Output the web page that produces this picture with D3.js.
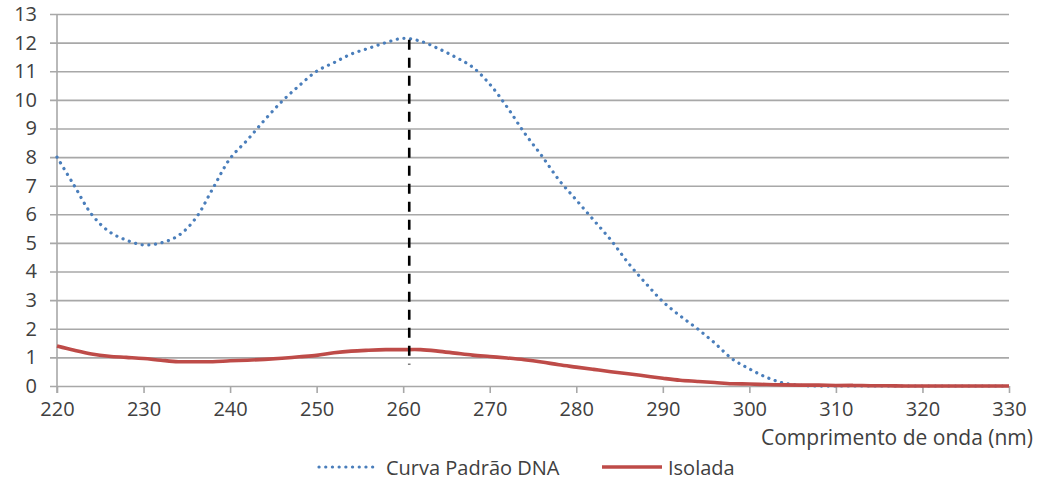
<!DOCTYPE html>
<html>
<head>
<meta charset="utf-8">
<script src="https://cdn.jsdelivr.net/npm/d3@7"></script>
<style>
  html, body { margin: 0; padding: 0; background: #fff; }
  text { font-family: "Open Sans", sans-serif; fill: #404040; }
</style>
</head>
<body>
<div class="chart"></div>
<script>
// wavelengths (nm)
var wavelengths = [220, 222, 224, 226, 228, 230, 232, 234, 236, 238, 240, 242, 244, 246, 248,
  250, 252, 254, 256, 258, 260, 262, 264, 266, 268, 270, 272, 274, 276, 278, 280, 282, 284,
  286, 288, 290, 292, 294, 296, 298, 300, 302, 304, 306, 308, 310, 312, 314, 316, 318, 320,
  322, 324, 326, 328, 330];

var curvaPadrao = [8.0, 7.0, 6.0, 5.4, 5.1, 4.93, 5.0, 5.25, 5.85, 6.9, 7.95, 8.6, 9.3, 9.95, 10.5,
  11.0, 11.3, 11.6, 11.8, 12.0, 12.15, 12.05, 11.8, 11.5, 11.15, 10.55, 9.75, 8.85, 8.05, 7.2, 6.5, 5.8, 5.1,
  4.3, 3.6, 2.95, 2.45, 2.0, 1.5, 0.95, 0.6, 0.3, 0.1, 0.02, 0, 0, 0, 0, 0, 0, 0,
  0, 0, 0, 0, 0];

var isolada = [1.4, 1.25, 1.12, 1.04, 1.0, 0.96, 0.9, 0.85, 0.85, 0.85, 0.88, 0.9, 0.93, 0.97, 1.02,
  1.07, 1.16, 1.22, 1.25, 1.27, 1.27, 1.27, 1.22, 1.15, 1.08, 1.03, 0.98, 0.92, 0.84, 0.74, 0.66, 0.58, 0.5,
  0.43, 0.35, 0.27, 0.2, 0.16, 0.12, 0.08, 0.07, 0.05, 0.04, 0.03, 0.03, 0.02, 0.02, 0.01, 0.01, 0, 0,
  0, 0, 0, 0, 0];

var xTicks = [220, 230, 240, 250, 260, 270, 280, 290, 300, 310, 320, 330];
var yTicks = [0, 1, 2, 3, 4, 5, 6, 7, 8, 9, 10, 11, 12, 13];

// peak marker (dashed)
var peakX = 260.7;
var peakRange = [0.75, 12.1];

var seriesNames = ['Curva Padrão DNA', 'Isolada'];
var xTitle = 'Comprimento de onda (nm)';

var width = 1037;
var height = 481;
var margin = { top: 14, right: 28, bottom: 95, left: 57 };

var svg = d3.select('.chart')
  .append('svg')
  .attr('width', width)
  .attr('height', height);

var xScale = d3.scaleLinear()
  .domain([220, 330])
  .range([margin.left, width - margin.right]);

var yScale = d3.scaleLinear()
  .domain([0, 13])
  .range([height - margin.bottom, margin.top]);

// gridlines + y axis
var yAxis = g => g
  .attr('transform', `translate(${margin.left},0)`)
  .call(d3.axisLeft(yScale).tickValues(yTicks).tickSize(7).tickPadding(13)
    .tickFormat(d3.format('d')))
  .call(g => g.select('.domain').remove())
  .call(g => g.selectAll('.tick line')
    .attr('x2', xScale(330) - margin.left)
    .attr('x1', -7)
    .attr('stroke', '#a8a8a8')
    .attr('stroke-width', 1.6))
  .call(g => g.selectAll('.tick text')
    .attr('font-size', 20)
    .attr('fill', '#3a3a3a')
    .attr('font-family', '"Open Sans", sans-serif'));

svg.append('g').call(yAxis);

// vertical axis line
svg.append('line')
  .attr('x1', xScale(220)).attr('x2', xScale(220))
  .attr('y1', yScale(13)).attr('y2', yScale(0) + 7)
  .attr('stroke', '#a8a8a8')
  .attr('stroke-width', 1.6);

var xAxis = g => g
  .attr('transform', `translate(0,${yScale(0)})`)
  .call(d3.axisBottom(xScale).tickValues(xTicks).tickSize(7).tickPadding(9)
    .tickFormat(d3.format('d')))
  .call(g => g.select('.domain').remove())
  .call(g => g.selectAll('.tick line')
    .attr('stroke', '#a8a8a8')
    .attr('stroke-width', 1.6))
  .call(g => g.selectAll('.tick text')
    .attr('font-size', 20)
    .attr('fill', '#3a3a3a')
    .attr('font-family', '"Open Sans", sans-serif'));

svg.append('g').call(xAxis);

svg.append('text')
  .attr('x', width - 4)
  .attr('y', 445)
  .attr('text-anchor', 'end')
  .attr('font-size', 21)
  .attr('fill', '#3a3a3a')
  .text(xTitle);

var line = d3.line()
  .x(d => xScale(d[0]))
  .y(d => yScale(d[1]))
  .curve(d3.curveCatmullRom.alpha(0.5));

var blueData = wavelengths.map((w, i) => [w, curvaPadrao[i]]);
var redData = wavelengths.map((w, i) => [w, isolada[i]]);

svg.append('path')
  .attr('d', line(blueData))
  .attr('fill', 'none')
  .attr('stroke', '#4a7ebb')
  .attr('stroke-width', 3.2)
  .attr('stroke-linecap', 'round')
  .attr('stroke-dasharray', '0.1 6.6');

svg.append('path')
  .attr('d', line(redData))
  .attr('fill', 'none')
  .attr('stroke', '#be4b48')
  .attr('stroke-width', 3.6)
  .attr('stroke-linejoin', 'round');

svg.append('line')
  .attr('x1', xScale(peakX)).attr('x2', xScale(peakX))
  .attr('y1', yScale(peakRange[1])).attr('y2', yScale(peakRange[0]))
  .attr('stroke', '#000')
  .attr('stroke-width', 2.6)
  .attr('stroke-dasharray', '10 8');

// legend
var legend = svg.append('g').attr('transform', 'translate(0,467)');

legend.append('line')
  .attr('x1', 319).attr('x2', 378).attr('y1', 0).attr('y2', 0)
  .attr('stroke', '#4a7ebb')
  .attr('stroke-width', 3.2)
  .attr('stroke-linecap', 'round')
  .attr('stroke-dasharray', '0.1 6.6');

legend.append('text')
  .attr('x', 386).attr('y', 7.5)
  .attr('font-size', 20)
  .attr('fill', '#3a3a3a')
  .text(seriesNames[0]);

legend.append('line')
  .attr('x1', 602).attr('x2', 662).attr('y1', 0).attr('y2', 0)
  .attr('stroke', '#be4b48')
  .attr('stroke-width', 3.6);

legend.append('text')
  .attr('x', 668).attr('y', 7.5)
  .attr('font-size', 20)
  .attr('fill', '#3a3a3a')
  .text(seriesNames[1]);
</script>
</body>
</html>
